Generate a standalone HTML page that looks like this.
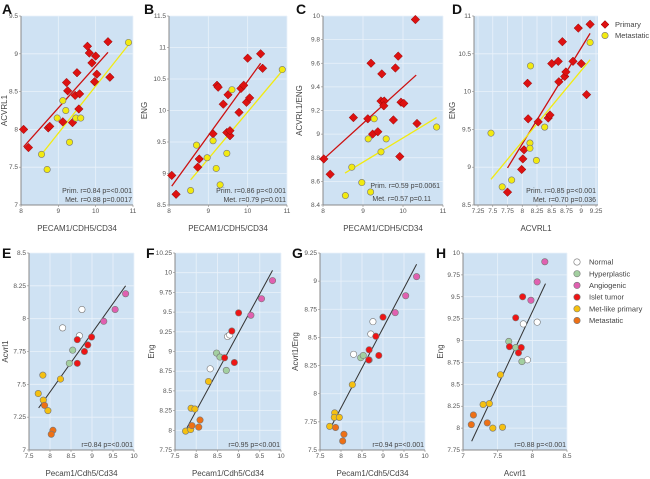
<!DOCTYPE html>
<html><head><meta charset="utf-8"><style>
html,body{margin:0;padding:0;background:#fff;}
svg{display:block;font-family:"Liberation Sans",sans-serif;}
</style></head><body>
<svg id="chart" width="650" height="479" viewBox="0 0 650 479" xmlns="http://www.w3.org/2000/svg"></svg>
<script>
// ---------- DATA ----------
const aPrimX=[8.07,8.2,8.73,8.77,9.12,9.22,9.25,9.38,9.45,9.5,9.55,9.57,9.78,9.83,9.9,9.97,10.0,10.03,10.33,10.38];
const aPrimY=[8.0,7.76,8.02,8.04,8.1,8.62,8.51,8.09,8.45,8.75,8.27,8.47,9.1,9.01,8.88,8.63,8.97,8.73,9.16,8.69];
const aMetX=[8.55,8.7,8.97,9.12,9.2,9.3,9.47,9.6,10.88];
const aMetY=[7.67,7.47,8.15,8.38,8.25,7.83,8.15,8.15,9.15];
const aPrimFit=[[8.07,7.77],[10.33,9.02]];
const aMetFit=[[8.55,7.67],[10.88,9.12]];

const bPrimX=[8.07,8.18,8.73,8.77,9.12,9.22,9.25,9.38,9.47,9.5,9.55,9.55,9.78,9.83,9.9,9.97,10.0,10.05,10.33,10.38];
const bPrimY=[8.97,8.67,9.1,9.23,9.63,10.4,10.37,10.1,9.65,10.25,9.6,9.68,9.97,10.35,10.4,10.13,10.83,10.2,10.9,10.67];
const bMetX=[8.55,8.7,8.97,9.12,9.2,9.3,9.47,9.6,10.88];
const bMetY=[8.73,9.45,9.25,9.52,9.08,8.82,9.32,10.33,10.65];
const bPrimFit=[[8.07,8.8],[10.33,10.75]];
const bMetFit=[[8.55,8.9],[10.88,10.63]];

const cPrimX=[8.02,8.18,8.76,9.12,9.24,9.37,9.2,9.47,9.45,9.53,9.52,9.81,9.88,9.76,9.95,10.02,9.92,10.31,10.35];
const cPrimY=[8.79,8.66,9.14,9.13,9.0,9.02,9.6,9.51,9.28,9.28,9.24,9.56,9.66,9.12,9.27,9.26,8.81,9.97,9.09];
const cMetX=[8.56,8.72,8.97,9.28,9.13,9.19,9.45,9.58,10.84];
const cMetY=[8.48,8.72,8.59,9.13,8.96,8.51,8.85,8.96,9.06];
const cPrimFit=[[8.02,8.79],[10.33,9.5]];
const cMetFit=[[8.55,8.67],[10.84,9.14]];

const dPrimX=[7.75,7.99,8.01,8.03,8.09,8.1,8.27,8.44,8.47,8.5,8.61,8.62,8.68,8.72,8.74,8.86,8.95,9.0,9.09,9.15];
const dPrimY=[8.67,8.97,9.11,9.23,10.11,9.64,9.6,9.65,9.69,10.37,10.4,10.13,10.66,10.2,10.26,10.4,10.84,10.37,9.96,10.89];
const dMetX=[7.47,7.66,7.82,8.14,8.13,8.13,8.24,8.38,9.15];
const dMetY=[9.45,8.74,8.83,10.34,9.32,9.25,9.09,9.53,10.65];
const dPrimFit=[[7.75,8.99],[9.15,10.77]];
const dMetFit=[[7.47,8.84],[9.15,10.42]];

const groups=["Normal","Hyperplastic","Angiogenic","Islet tumor","Met-like primary","Metastatic"];
const groupColors=["#ffffff","#a3cfa0","#e060b0","#ee1515","#f5c010","#ee7015"];

const eGroup=[0,0,0,1,1,2,2,2,3,3,3,3,3,4,4,4,4,4,5,5,5];
const eX=[8.76,8.30,8.70,8.54,8.46,9.55,9.28,9.8,8.65,8.99,8.9,8.82,8.65,7.83,8.25,7.72,7.84,7.95,7.87,8.07,8.03];
const eY=[8.07,7.93,7.87,7.76,7.66,8.07,7.98,8.19,7.84,7.86,7.80,7.75,7.66,7.57,7.54,7.43,7.38,7.30,7.34,7.15,7.12];
const eFit=[[7.73,7.32],[9.8,8.25]];

const fGroup=[0,0,0,1,1,1,2,2,2,3,3,3,3,4,4,4,4,4,5,5,5];
const fX=[8.74,8.79,8.33,8.48,8.56,8.71,9.54,9.29,9.8,9.0,8.84,8.67,8.9,7.75,7.88,7.97,7.87,8.29,7.9,8.09,8.06];
const fY=[9.19,9.21,8.78,8.98,8.93,8.76,9.67,9.46,9.9,9.49,9.26,8.92,8.86,7.99,8.28,8.27,8.01,8.62,8.06,8.13,8.04];
const fFit=[[7.78,8.03],[9.8,10.03]];

const gGroup=[0,0,0,1,1,1,2,2,2,3,3,3,3,3,4,4,4,4,4,5,5,5];
const gX=[8.76,8.71,8.3,8.47,8.53,8.67,9.8,9.54,9.29,9.0,8.83,8.67,8.9,8.66,8.27,7.85,7.84,7.96,7.73,7.87,8.07,8.04];
const gY=[8.64,8.53,8.35,8.32,8.34,8.3,9.04,8.87,8.72,8.68,8.51,8.39,8.34,8.30,8.08,7.83,7.79,7.79,7.71,7.70,7.64,7.58];
const gFit=[[7.74,7.69],[9.8,9.15]];

const hGroup=[0,0,0,1,1,1,2,2,2,3,3,3,3,3,4,4,4,4,4,5,5,5];
const hX=[7.87,8.07,7.93,7.66,7.76,7.85,8.18,8.07,7.98,7.86,7.76,7.67,7.84,7.80,7.54,7.29,7.38,7.43,7.57,7.15,7.12,7.35];
const hY=[9.19,9.21,8.78,8.99,8.92,8.76,9.9,9.67,9.46,9.5,9.26,8.93,8.92,8.86,8.61,8.27,8.28,8.0,8.01,8.15,8.04,8.06];
const hFit=[[7.125,7.85],[8.19,9.65]];

const ticksA_X=[8,9,10,11], ticksA_Y=[7,7.5,8,8.5,9,9.5];
const ticksB_Y=[8.5,9,9.5,10,10.5,11,11.5];
const ticksC_Y=[8.4,8.6,8.8,9,9.2,9.4,9.6,9.8,10];
const ticksD_X=[7.25,7.5,7.75,8,8.25,8.5,8.75,9,9.25], ticksD_Y=[8.5,9,9.5,10,10.5,11];
const ticksE_X=[7.5,8,8.5,9,9.5,10], ticksE_Y=[7,7.25,7.5,7.75,8,8.25,8.5];
const ticksF_Y=[7.75,8,8.25,8.5,8.75,9,9.25,9.5,9.75,10,10.25];
const ticksG_Y=[7.5,7.75,8,8.25,8.5,8.75,9,9.25];
const ticksH_X=[7,7.5,8,8.5], ticksH_Y=[7.75,8,8.25,8.5,8.75,9,9.25,9.5,9.75,10];

// ---------- DRAW ----------
const NS="http://www.w3.org/2000/svg";
const svg=document.getElementById("chart");
function mk(tag,attrs,parent){const e=document.createElementNS(NS,tag);for(const k in attrs)e.setAttribute(k,attrs[k]);(parent||svg).appendChild(e);return e;}
function fmt(v){return String(v);}

function panel(p){
  const g=mk("g",{});
  
  
  const sx=v=>p.L+(v-p.x0)/(p.x1-p.x0)*(p.R-p.L);
  const sy=v=>p.B-(v-p.y0)/(p.y1-p.y0)*(p.B-p.T);
  const bg=mk("rect",{x:p.L,y:p.T,width:p.R-p.L,height:p.B-p.T,fill:"#cfe2f3"},g);
  
  
  p.xt.forEach(t=>{
    mk("line",{x1:sx(t),x2:sx(t),y1:p.T,y2:p.B,stroke:"#eaf2fa","stroke-width":0.8},g);
    const tx=mk("text",{x:sx(t),y:p.B+8,"font-size":6.5,fill:"#555","text-anchor":"middle"},g);
    tx.textContent=fmt(t);
    
    
    mk("line",{x1:sx(t),x2:sx(t),y1:p.B,y2:p.B+2,stroke:"#888","stroke-width":0.6},g);
  });
  p.yt.forEach(t=>{
    mk("line",{x1:p.L,x2:p.R,y1:sy(t),y2:sy(t),stroke:"#eaf2fa","stroke-width":0.8},g);
    const ty=mk("text",{x:p.L-3,y:sy(t)+2,"font-size":6.5,fill:"#555","text-anchor":"end"},g);
    ty.textContent=fmt(t);
    
    
    mk("line",{x1:p.L-2,x2:p.L,y1:sy(t),y2:sy(t),stroke:"#888","stroke-width":0.6},g);
  });
  mk("line",{x1:p.L,x2:p.L,y1:p.T,y2:p.B,stroke:"#888","stroke-width":1},g);
  mk("line",{x1:p.L,x2:p.R,y1:p.B,y2:p.B,stroke:"#888","stroke-width":1},g);
  const xl=mk("text",{x:(p.L+p.R)/2,y:p.xTitleY,"font-size":8,fill:"#444","text-anchor":"middle"},g);
  xl.textContent=p.xTitle;
  
  
  const yl=mk("text",{x:0,y:0,"font-size":8,fill:"#444","text-anchor":"middle",transform:`translate(${p.yTitleX},${(p.T+p.B)/2}) rotate(-90)`},g);
  yl.textContent=p.yTitle;
  
  
  const lt=mk("text",{x:p.letterX,y:p.letterY,"font-size":14,"font-weight":"bold",fill:"#111"},g);
  lt.textContent=p.id;
  
  
  return {g,sx,sy};
}
function fit(P,f,color,w){
  const l=mk("line",{x1:P.sx(f[0][0]),y1:P.sy(f[0][1]),x2:P.sx(f[1][0]),y2:P.sy(f[1][1]),stroke:color,"stroke-width":w},P.g);
  
  
}
function diamonds(P,xs,ys){
  xs.forEach((x,i)=>{
    const cx=P.sx(x),cy=P.sy(ys[i]),r=4.3;
    const d=mk("polygon",{points:`${cx},${cy-r} ${cx+r},${cy} ${cx},${cy+r} ${cx-r},${cy}`,fill:"#dd1111",stroke:"#8a0a0a","stroke-width":0.5},P.g);
    
    
  });
}
function circles(P,xs,ys,colorFn,name){
  xs.forEach((x,i)=>{
    const c=mk("circle",{cx:P.sx(x),cy:P.sy(ys[i]),r:3.2,fill:colorFn(i),stroke:"#777","stroke-width":0.6},P.g);
    
    
  });
}
function note(P,x,y,txt){
  const t=mk("text",{x:x,y:y,"font-size":7,fill:"#444","text-anchor":"end"},P.g);
  t.textContent=txt;
  
  
}
const YEL="#f2ea10", RED="#cc1111";

// top row
const topRow={T:16,B:205,xTitleY:231,letterY:14};
const A=panel(Object.assign({id:"A",L:21,R:133,x0:8,x1:11,y0:7,y1:9.5,xt:ticksA_X,yt:ticksA_Y,xTitle:"PECAM1/CDH5/CD34",yTitle:"ACVRL1",yTitleX:7,letterX:2},topRow));
fit(A,aPrimFit,RED,1.3);fit(A,aMetFit,YEL,1.3);
diamonds(A,aPrimX,aPrimY);circles(A,aMetX,aMetY,()=>YEL,'metastatic-point');
note(A,132,193,"Prim. r=0.84 p=<0.001");note(A,132,202,"Met. r=0.88 p=0.0017");

const B=panel(Object.assign({id:"B",L:169,R:287,x0:8,x1:11,y0:8.5,y1:11.5,xt:ticksA_X,yt:ticksB_Y,xTitle:"PECAM1/CDH5/CD34",yTitle:"ENG",yTitleX:147,letterX:144},topRow));
fit(B,bPrimFit,RED,1.3);fit(B,bMetFit,YEL,1.3);
diamonds(B,bPrimX,bPrimY);circles(B,bMetX,bMetY,()=>YEL,'metastatic-point');
note(B,286,193,"Prim. r=0.86 p=<0.001");note(B,286,202,"Met. r=0.79 p=0.011");

const C=panel(Object.assign({id:"C",L:323,R:443,x0:8,x1:11,y0:8.4,y1:10,xt:ticksA_X,yt:ticksC_Y,xTitle:"PECAM1/CDH5/CD34",yTitle:"ACVRL1/ENG",yTitleX:302,letterX:296},topRow));
fit(C,cPrimFit,RED,1.3);fit(C,cMetFit,YEL,1.3);
diamonds(C,cPrimX,cPrimY);circles(C,cMetX,cMetY,()=>YEL,'metastatic-point');
note(C,440,188,"Prim. r=0.59 p=0.0061");note(C,431,201,"Met.  r=0.57 p=0.11");

const D=panel(Object.assign({id:"D",L:474,R:598,x0:7.182,x1:9.284,y0:8.5,y1:11,xt:ticksD_X,yt:ticksD_Y,xTitle:"ACVRL1",yTitle:"ENG",yTitleX:455,letterX:452},topRow));
fit(D,dPrimFit,RED,1.3);fit(D,dMetFit,YEL,1.3);
diamonds(D,dPrimX,dPrimY);circles(D,dMetX,dMetY,()=>YEL,'metastatic-point');
note(D,596,193,"Prim. r=0.85 p=<0.001");note(D,596,202,"Met. r=0.70 p=0.036");

// legend top
const lg1=mk("g",{});


mk("polygon",{points:"605,20.5 609,24.5 605,28.5 601,24.5",fill:"#dd1111",stroke:"#8a0a0a","stroke-width":0.5},lg1);
mk("circle",{cx:605,cy:35.5,r:3.2,fill:YEL,stroke:"#777","stroke-width":0.6},lg1);
const lp=mk("text",{x:615,y:27,"font-size":7.5,fill:"#444"},lg1);lp.textContent="Primary";


const lm=mk("text",{x:615,y:38,"font-size":7.5,fill:"#444"},lg1);lm.textContent="Metastatic";



// bottom row
const botRow={T:253,B:450,xTitleY:476,letterY:258};
const col=g=>groupColors[g];
const E=panel(Object.assign({id:"E",L:29,R:134,x0:7.5,x1:10,y0:7,y1:8.5,xt:ticksE_X,yt:ticksE_Y,xTitle:"Pecam1/Cdh5/Cd34",yTitle:"Acvrl1",yTitleX:8,letterX:2},botRow));
fit(E,eFit,"#333",1);
circles(E,eX,eY,i=>col(eGroup[i]),'sample-point');
note(E,133,447,"r=0.84 p=<0.001");

const F=panel(Object.assign({id:"F",L:175,R:281,x0:7.5,x1:10,y0:7.75,y1:10.25,xt:ticksE_X,yt:ticksF_Y,xTitle:"Pecam1/Cdh5/Cd34",yTitle:"Eng",yTitleX:154,letterX:146},botRow));
fit(F,fFit,"#333",1);
circles(F,fX,fY,i=>col(fGroup[i]),'sample-point');
note(F,280,447,"r=0.95 p=<0.001");

const G=panel(Object.assign({id:"G",L:320,R:425,x0:7.5,x1:10,y0:7.5,y1:9.25,xt:ticksE_X,yt:ticksG_Y,xTitle:"Pecam1/Cdh5/Cd34",yTitle:"Acvrl1/Eng",yTitleX:298,letterX:292},botRow));
fit(G,gFit,"#333",1);
circles(G,gX,gY,i=>col(gGroup[i]),'sample-point');
note(G,424,447,"r=0.94 p=<0.001");

const H=panel(Object.assign({id:"H",L:463,R:567,x0:7,x1:8.5,y0:7.75,y1:10,xt:ticksH_X,yt:ticksH_Y,xTitle:"Acvrl1",yTitle:"Eng",yTitleX:443,letterX:436},botRow));
fit(H,hFit,"#333",1);
circles(H,hX,hY,i=>col(hGroup[i]),'sample-point');
note(H,566,447,"r=0.88 p=<0.001");

// legend bottom
const lg2=mk("g",{});


groups.forEach((name,i)=>{
  const y=262+i*11.7;
  mk("circle",{cx:577,cy:y,r:3.2,fill:groupColors[i],stroke:"#777","stroke-width":0.6},lg2);
  const t=mk("text",{x:589,y:y+2.6,"font-size":7.5,fill:"#444"},lg2);
  t.textContent=name;
  
  
});
</script>
</body></html>
